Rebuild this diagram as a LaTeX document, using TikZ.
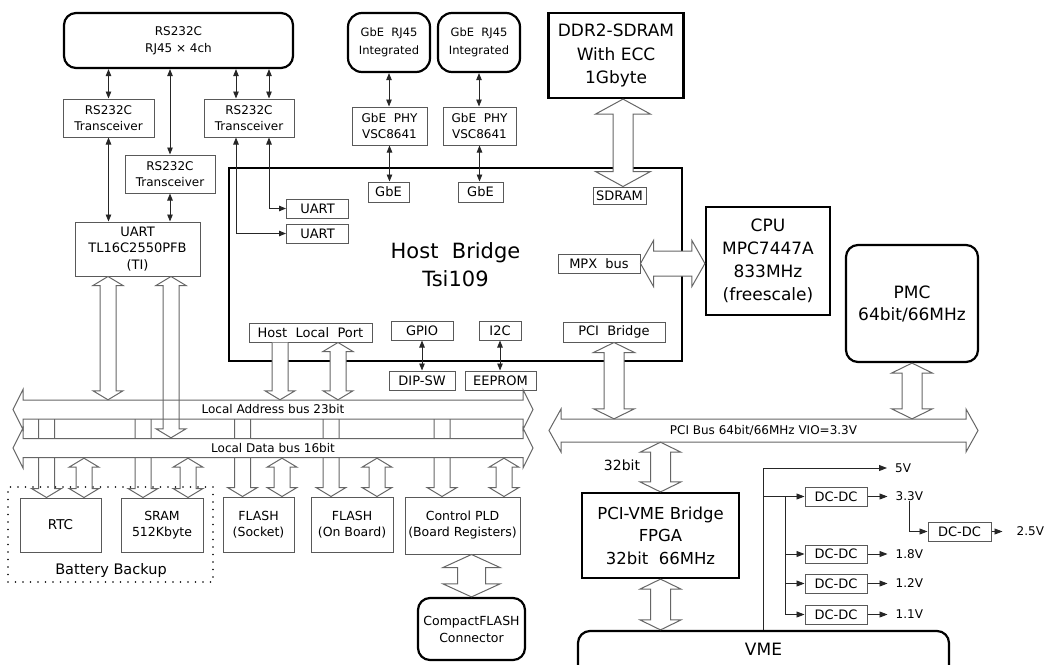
\documentclass[tikz,border=0pt]{standalone}
\usepackage{fontspec}
\setmainfont{DejaVu Sans}
\usetikzlibrary{arrows.meta,calc,positioning}
\tikzset{
    sz/.style 2 args={minimum width=#1pt, minimum height=#2pt},
    thinbox/.style={draw=black!65, line width=1pt, align=center, inner sep=0pt,
        font=\fontsize{12}{16.5}\selectfont},
    tagbox/.style={thinbox, font=\fontsize{13}{15}\selectfont},
    devbox/.style={thinbox, font=\fontsize{12.5}{16}\selectfont},
    bigbox/.style={draw, line width=2.2pt, align=center, inner sep=0pt,
        font=\fontsize{17}{23}\selectfont},
    portbox/.style={draw, line width=2.2pt, rounded corners=12pt, align=center,
        inner sep=0pt, font=\fontsize{12}{17}\selectfont},
    battbox/.style={draw, line width=1.8pt, line cap=round, dash pattern=on 0pt off 7.5pt},
    buslbl/.style={inner sep=0pt, font=\fontsize{12}{14}\selectfont},
    volt/.style={inner sep=0pt, font=\fontsize{12}{14}\selectfont},
    sig/.style={draw=black!85, line width=0.9pt,
        {Triangle[length=7pt,width=5.5pt]}-{Triangle[length=7pt,width=5.5pt]}},
    pwr/.style={draw=black!85, line width=0.9pt, -{Triangle[length=8pt,width=6pt]}},
    blk/.code n args={3}{\def\bsw{#1}\def\bhw{#2}\def\bhl{#3}},
    fat/.style={draw=black!60, line width=1pt, fill=white},
    hollow/.style={fat, fill=none},
    smallfat/.style={blk={8pt}{15pt}{9pt}},
    midfat/.style={blk={10pt}{20.5pt}{10pt}},
    vboth/.style={to path={let \p1=(\tikztostart), \p2=(\tikztotarget) in
        (\x1,\y1) -- (\x1+\bhw,\y1-\bhl) -- (\x1+\bsw,\y1-\bhl) -- (\x1+\bsw,\y2+\bhl)
        -- (\x1+\bhw,\y2+\bhl) -- (\x1,\y2) -- (\x1-\bhw,\y2+\bhl) -- (\x1-\bsw,\y2+\bhl)
        -- (\x1-\bsw,\y1-\bhl) -- (\x1-\bhw,\y1-\bhl) -- cycle}},
    vdown/.style={to path={let \p1=(\tikztostart), \p2=(\tikztotarget) in
        (\x1-\bsw,\y1) -- (\x1-\bsw,\y2+\bhl) -- (\x1-\bhw,\y2+\bhl) -- (\x1,\y2)
        -- (\x1+\bhw,\y2+\bhl) -- (\x1+\bsw,\y2+\bhl) -- (\x1+\bsw,\y1)}},
    hboth/.style={to path={let \p1=(\tikztostart), \p2=(\tikztotarget) in
        (\x1,\y1) -- (\x1+\bhl,\y1+\bhw) -- (\x1+\bhl,\y1+\bsw) -- (\x2-\bhl,\y1+\bsw)
        -- (\x2-\bhl,\y1+\bhw) -- (\x2,\y1) -- (\x2-\bhl,\y1-\bhw) -- (\x2-\bhl,\y1-\bsw)
        -- (\x1+\bhl,\y1-\bsw) -- (\x1+\bhl,\y1-\bhw) -- cycle}}
}

\begin{document}
\begin{tikzpicture}[x=1pt, y=-1pt]
\useasboundingbox (0,0) rectangle (1046,664);

% serial ports
\node[portbox, sz={229}{55}] (rj45) at (178.5,40.5) {RS232C\\RJ45 × 4ch};
\node[thinbox, sz={91}{38}] (xcvr1) at (108.5,118) {RS232C\\Transceiver};
\node[thinbox, sz={90}{38}] (xcvr2) at (170,174) {RS232C\\Transceiver};
\node[thinbox, sz={90}{38}] (xcvr3) at (249,118) {RS232C\\Transceiver};
\node[thinbox, sz={125}{54}, font=\fontsize{13}{16.5}\selectfont] (uart) at (137.5,249) {UART\\TL16C2550PFB\\(TI)};

% host bridge
\node[bigbox, sz={453}{193}, font=\fontsize{21}{28}\selectfont] (hb) at (455.5,264.5) {Host\ \ Bridge\\Tsi109};
\node[tagbox, sz={62}{19}] (uartA) at (317.5,208.5) {UART};
\node[tagbox, sz={62}{19}] (uartB) at (317.5,233.5) {UART};
\node[tagbox, sz={41}{20}] (gbe1) at (388.5,192) {GbE};
\node[tagbox, sz={45}{20}] (gbe2) at (480.5,192) {GbE};
\node[tagbox, sz={53}{17}] (sdram) at (619.5,195.5) {SDRAM};
\node[tagbox, sz={82}{19}] (mpx) at (599,263.5) {MPX\ \ bus};
\node[tagbox, sz={123}{19}] (hlp) at (310.5,332.5) {Host\ \ Local\ \ Port};
\node[tagbox, sz={62}{19}] (gpio) at (422,330.5) {GPIO};
\node[tagbox, sz={42}{19}] (i2c) at (500,330.5) {I2C};
\node[tagbox, sz={102}{20}] (pcibr) at (614,332) {PCI\ \ Bridge};
\node[tagbox, sz={66}{19}] (dipsw) at (422,380.5) {DIP-SW};
\node[tagbox, sz={71}{19}] (eeprom) at (500.5,380.5) {EEPROM};

% ethernet
\node[portbox, rounded corners=14pt, sz={82}{59}, font=\fontsize{11.5}{18}\selectfont] (gbeA) at (389,42.5) {GbE\ \ RJ45\\Integrated};
\node[portbox, rounded corners=14pt, sz={82}{59}, font=\fontsize{11.5}{18}\selectfont] (gbeB) at (479,42.5) {GbE\ \ RJ45\\Integrated};
\node[thinbox, sz={75}{38}] (phy1) at (389.5,126) {GbE\ \ PHY\\VSC8641};
\node[thinbox, sz={73}{38}] (phy2) at (479.5,126) {GbE\ \ PHY\\VSC8641};

% memory, cpu, pci side
\node[bigbox, sz={135}{85}, font=\fontsize{17}{23.5}\selectfont] (ddr) at (616,55.5) {DDR2-SDRAM\\With ECC\\1Gbyte};
\node[bigbox, sz={124}{108}] (cpu) at (768,261) {CPU\\MPC7447A\\833MHz\\(freescale)};
\node[portbox, sz={132}{117}, font=\fontsize{17}{22}\selectfont] (pmc) at (912,303.5) {PMC\\64bit/66MHz};
\node[bigbox, sz={157}{85}, font=\fontsize{16.5}{22.5}\selectfont] (pcivme) at (660.5,535.5) {PCI-VME Bridge\\FPGA\\32bit\ \ 66MHz};
\node[portbox, sz={371}{60}, font=\fontsize{17}{20}\selectfont, text height=12pt, text depth=24pt] (vme) at (763.5,661) {VME};
\node[font=\fontsize{14}{16}\selectfont] (w32) at (622,465) {32bit};

% local bus devices
\node[battbox, sz={205}{95}] (batt) at (110.5,534.5) {};
\node[font=\fontsize{14.5}{16}\selectfont] (battlbl) at (111,570) {Battery Backup};
\node[devbox, sz={81}{54}, font=\fontsize{13.5}{16}\selectfont] (rtc) at (60.5,525) {RTC};
\node[devbox, sz={82}{54}] (sram) at (162,525) {SRAM\\512Kbyte};
\node[devbox, sz={71}{55}] (flashs) at (258.5,524.5) {FLASH\\(Socket)};
\node[devbox, sz={82}{55}] (flasho) at (352,524.5) {FLASH\\(On Board)};
\node[devbox, sz={115}{57}] (pld) at (462.5,525.5) {Control PLD\\(Board Registers)};
\node[portbox, sz={107}{62}, font=\fontsize{12.5}{17}\selectfont] (cf) at (471.5,629) {CompactFLASH\\Connector};

% power
\node[tagbox, sz={62}{19}] (dc33) at (836,496.5) {DC-DC};
\node[tagbox, sz={62}{18}] (dc18) at (836,554) {DC-DC};
\node[tagbox, sz={62}{19}, below=10pt of dc18] (dc12) {DC-DC};
\node[tagbox, sz={62}{19}, below=11pt of dc12] (dc11) {DC-DC};
\node[tagbox, sz={63}{19}] (dc25) at (959.5,531.5) {DC-DC};
\node[volt, anchor=west] (v5) at (895,468) {5V};
\node[volt, right=28pt of dc33] (v33) {3.3V};
\node[volt, right=28pt of dc18] (v18) {1.8V};
\node[volt, right=28pt of dc12] (v12) {1.2V};
\node[volt, right=28pt of dc11] (v11) {1.1V};
\node[volt, right=25pt of dc25] (v25) {2.5V};

% serial links
\draw[sig] (xcvr1.north |- rj45.south) -- (xcvr1.north);
\draw[sig] (xcvr2.north |- rj45.south) -- (xcvr2.north);
\draw[sig] (236,0 |- rj45.south) -- (236,0 |- xcvr3.north);
\draw[sig] (269,0 |- rj45.south) -- (269,0 |- xcvr3.north);
\draw[sig] (xcvr1.south) -- (xcvr1.south |- uart.north);
\draw[sig] (xcvr2.south) -- (xcvr2.south |- uart.north);
\draw[sig] (236,0 |- xcvr3.south) |- (uartB.west);
\draw[sig] (269,0 |- xcvr3.south) |- (uartA.west);

% ethernet and misc links
\draw[sig] (gbeA.south) -- (gbeA.south |- phy1.north);
\draw[sig] (phy1.south) -- (phy1.south |- gbe1.north);
\draw[sig] (gbeB.south) -- (gbeB.south |- phy2.north);
\draw[sig] (phy2.south) -- (phy2.south |- gbe2.north);
\draw[sig] (gpio.south) -- (dipsw.north);
\draw[sig] (i2c.south) -- (i2c.south |- eeprom.north);

% power tree
\coordinate (tap) at (785,0 |- dc33.west);
\draw[pwr, shorten >=8pt] (vme.north) |- (v5.west);
\draw[pwr] (vme.north |- dc33.west) -- (dc33.west);
\foreach \dc in {dc18,dc12,dc11}
    \draw[pwr] (tap) |- (\dc.west);
\foreach \dc/\vv in {dc33/v33,dc18/v18,dc12/v12,dc11/v11}
    \draw[pwr, shorten >=8pt] (\dc.east) -- (\vv.west);
\draw[pwr] (v33.south) |- (dc25.west);
\draw[pwr, shorten >=14pt] (dc25.east) -- (v25.west);

% wide paths
\draw[fat, blk={10pt}{27.5pt}{15pt}] (623,0 |- ddr.south) to[vboth] (623,0 |- sdram.north);
\draw[fat, blk={12.5pt}{23pt}{13pt}] (mpx.east) to[hboth] (mpx.east -| cpu.west);

% buses
\coordinate (abL) at (13,409.5);
\coordinate (abR) at (533,409.5);
\coordinate (dbL) at (13,448);
\coordinate (dbR) at (533,448);
\coordinate (pbL) at (549,430.5);
\coordinate (pbR) at (978,430.5);
\draw[fat, blk={9.5pt}{20pt}{10pt}] (abL) to[hboth] (abR);
\node[buslbl, sz={500}{19}] (abus) at ($(abL)!0.5!(abR)$) {Local Address bus 23bit};
\draw[fat, blk={11.5pt}{21.5pt}{12pt}] (pbL) to[hboth] (pbR);
\node[buslbl, sz={406}{23}] (pbus) at ($(pbL)!0.5!(pbR)$) {PCI Bus 64bit/66MHz VIO=3.3V};

\draw[fat, midfat] (pcibr.south) to[vboth] (pcibr.south |- pbus.north);
\draw[fat, midfat] (pmc.south) to[vboth] (pmc.south |- pbus.north);
\draw[fat, midfat] (pcivme.north |- pbus.south) to[vboth] (pcivme.north);
\draw[fat, midfat] (pcivme.south) to[vboth] (pcivme.south |- vme.north);
\draw[fat, blk={14pt}{28.5pt}{13pt}] (cf.north |- pld.south) to[vboth] (cf.north);
\draw[fat, smallfat] (108,0 |- uart.south) to[vboth] (108,0 |- abus.north);
\draw[fat, smallfat] (280,0 |- hlp.south) to[vdown] (280,0 |- abus.north);
\draw[fat, smallfat] (338,0 |- hlp.south) to[vboth] (338,0 |- abus.north);

% address lines down to the devices
\foreach \cx/\dev in {46.5/rtc,143/sram,242.5/flashs,331/flasho,442/pld}
    \draw[hollow, smallfat] (\cx,0 |- abus.south) to[vdown] (\cx,0 |- \dev.north);

\draw[fat, blk={9.5pt}{20pt}{10pt}] (dbL) to[hboth] (dbR);
\node[buslbl, sz={500}{20}] (dbus) at ($(dbL)!0.5!(dbR)$) {Local Data bus 16bit};

% data lines
\foreach \cx/\dev in {84/rtc,188/sram,282/flashs,377/flasho,504/pld}
    \draw[hollow, smallfat] (\cx,0 |- dbus.south) to[vboth] (\cx,0 |- \dev.north);
\draw[hollow, smallfat] (171,0 |- uart.south) to[vboth] (171,0 |- dbus.north);
\end{tikzpicture}
\end{document}
